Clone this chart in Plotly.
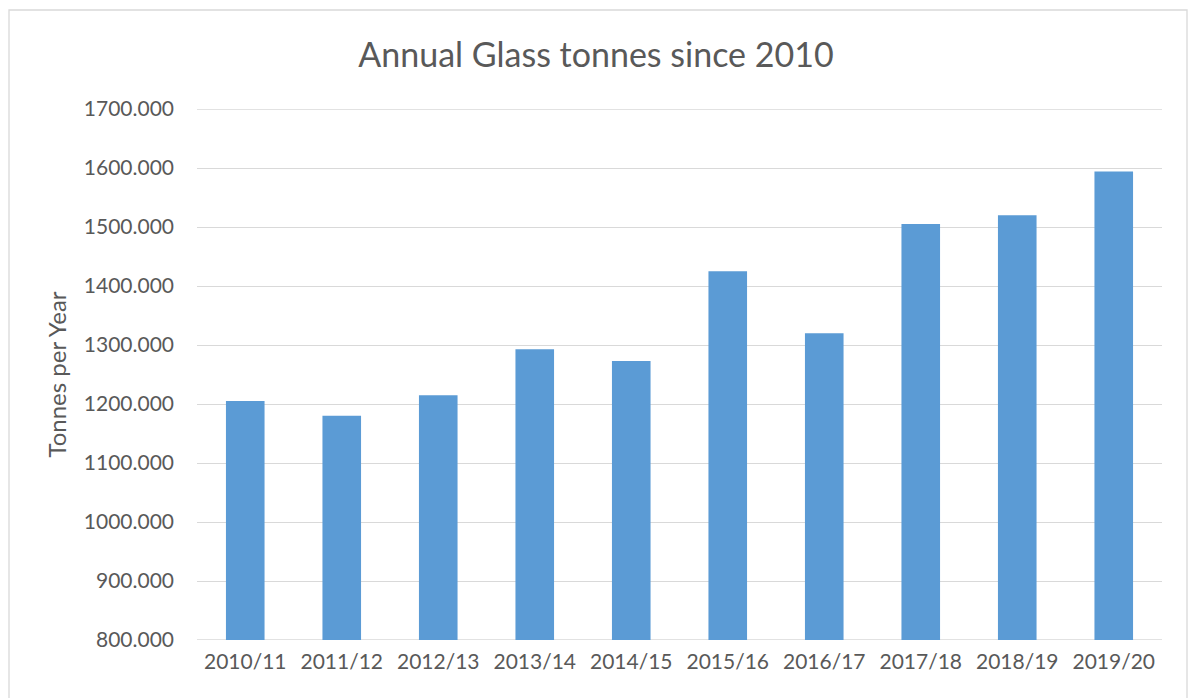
import plotly.graph_objects as go

categories = ["2010/11", "2011/12", "2012/13", "2013/14", "2014/15",
              "2015/16", "2016/17", "2017/18", "2018/19", "2019/20"]
tonnes = [1205, 1180, 1215, 1293, 1273, 1425, 1320, 1505, 1520, 1594]
y_ticks = [800, 900, 1000, 1100, 1200, 1300, 1400, 1500, 1600, 1700]

W, H = 1192, 698
L, R, T, B = 197, 30, 109, 58
pw, ph = W - L - R, H - T - B

def px_x(x):
    return (x - L) / pw

def px_y(y):
    return (H - B - y) / ph

FONT = "Lato"
TXT = "#595959"
GRID = "#d9d9d9"

fig = go.Figure(go.Bar(x=categories, y=tonnes, marker=dict(color="#5b9bd5", line=dict(width=0))))

fig.update_layout(
    width=W, height=H,
    margin=dict(l=L, r=R, t=T, b=B),
    paper_bgcolor="white", plot_bgcolor="white",
    bargap=0.6,
    showlegend=False,
    font=dict(family=FONT, color=TXT),
    title=dict(text="Annual Glass tonnes since 2010", x=0.5, xanchor="center",
               y=1 - 55 / H, yanchor="middle", font=dict(size=34, color=TXT, family=FONT)),
    xaxis=dict(showgrid=False, showline=False, zeroline=False, ticks="",
               tickfont=dict(size=21, color=TXT), ticklabelstandoff=7),
    yaxis=dict(range=[y_ticks[0], y_ticks[-1]], tickvals=y_ticks,
               tickformat=".3f",
               showgrid=True, gridcolor=GRID, gridwidth=1.3, zeroline=False,
               showline=False, ticks="", tickfont=dict(size=21, color=TXT),
               ticklabelstandoff=22,
               title=dict(text="Tonnes per Year", font=dict(size=24, color=TXT), standoff=10)),
    shapes=[
        dict(type="rect", xref="paper", yref="paper",
             x0=px_x(9), x1=px_x(1187), y0=px_y(720), y1=px_y(10),
             line=dict(color=GRID, width=1.3), fillcolor="rgba(0,0,0,0)", layer="below"),
        dict(type="line", xref="paper", yref="y", x0=0, x1=1, y0=y_ticks[-1], y1=y_ticks[-1],
             line=dict(color=GRID, width=1.3), layer="below"),
        dict(type="line", xref="paper", yref="y", x0=0, x1=1, y0=y_ticks[0], y1=y_ticks[0],
             line=dict(color=GRID, width=1.3), layer="below"),
    ],
)

fig.write_html("out.html")
